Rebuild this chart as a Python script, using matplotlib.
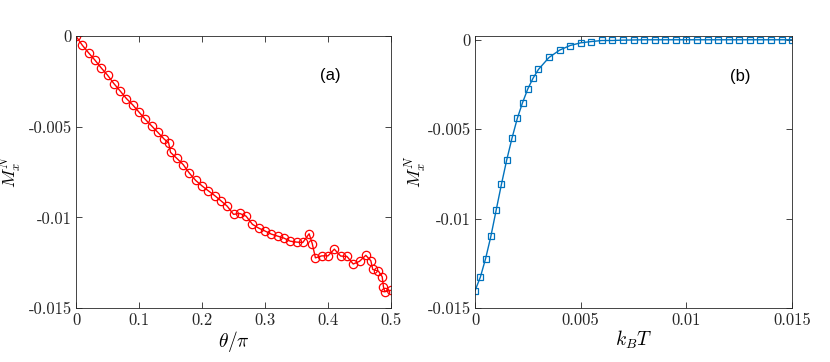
import matplotlib
matplotlib.use("Agg")
import matplotlib.pyplot as plt

plt.rcParams["mathtext.fontset"] = "cm"
plt.rcParams["axes.unicode_minus"] = False

# panel (a): M_x^N vs theta/pi
theta = [0, 0.01, 0.02, 0.03, 0.04, 0.05, 0.06, 0.07, 0.08, 0.09,
         0.10, 0.11, 0.12, 0.13, 0.14, 0.147, 0.15, 0.16, 0.17, 0.18,
         0.19, 0.20, 0.21, 0.22, 0.23, 0.24, 0.25, 0.26, 0.27, 0.28,
         0.29, 0.30, 0.31, 0.32, 0.33, 0.34, 0.35, 0.36, 0.37, 0.375,
         0.38, 0.39, 0.40, 0.41, 0.42, 0.43, 0.44, 0.45, 0.46, 0.468,
         0.471, 0.48, 0.486, 0.488, 0.49, 0.50]
mx_theta = [0, -0.0005, -0.00092, -0.00132, -0.00175, -0.00215, -0.00261, -0.00302, -0.00344, -0.00379,
            -0.00419, -0.00459, -0.00495, -0.00531, -0.00568, -0.00588, -0.00641, -0.00674, -0.00708, -0.00756,
            -0.00796, -0.00826, -0.00853, -0.00879, -0.00908, -0.00938, -0.00983, -0.00978, -0.00993, -0.01038,
            -0.01059, -0.01075, -0.01092, -0.01103, -0.01114, -0.01131, -0.01136, -0.01138, -0.0109, -0.01145,
            -0.01223, -0.01212, -0.01212, -0.01175, -0.01213, -0.01215, -0.01257, -0.01242, -0.01209, -0.01239,
            -0.01287, -0.01296, -0.01327, -0.01383, -0.0141, -0.01402]

# panel (b): M_x^N vs k_B T
kT = [0, 0.00025, 0.0005, 0.00075, 0.001, 0.00125, 0.0015, 0.00175, 0.002, 0.00225,
      0.0025, 0.00275, 0.003, 0.0035, 0.004, 0.0045, 0.005, 0.0055, 0.006, 0.0065,
      0.007, 0.0075, 0.008, 0.0085, 0.009, 0.0095, 0.01, 0.0105, 0.011, 0.0115,
      0.012, 0.0125, 0.013, 0.0135, 0.014, 0.0145, 0.015]
mx_kT = [-0.01403, -0.01328, -0.01224, -0.01099, -0.00953, -0.00808, -0.00672, -0.0055, -0.0044, -0.00351,
         -0.00274, -0.00214, -0.00166, -0.00099, -0.00058, -0.00032, -0.00017, -0.0001, -0.00004, -0.00004,
         -0.00002, -0.00001, 0, 0, 0, 0, 0, 0, 0, 0,
         0, 0, 0, 0, 0, 0, 0]

yticks = [0, -0.005, -0.01, -0.015]
ytick_labels = ["0", "-0.005", "-0.01", "-0.015"]

fig = plt.figure(figsize=(8.3, 3.62), dpi=100)
ax1 = fig.add_axes([0.0916, 0.149, 0.3795, 0.751])
ax2 = fig.add_axes([0.5723, 0.149, 0.382, 0.751])

ax1.plot(theta, mx_theta, color="red", lw=1.0, marker="o", ms=6,
         mfc="none", mec="red", mew=0.9)
ax2.plot(kT, mx_kT, color="#0072BD", lw=1.0, marker="s", ms=5,
         mfc="none", mec="#0072BD", mew=0.9)

ax1.set_xlim(0, 0.5)
ax1.set_ylim(-0.015, 0)
ax1.set_xticks([0, 0.1, 0.2, 0.3, 0.4, 0.5])
ax1.set_xticklabels(["0", "0.1", "0.2", "0.3", "0.4", "0.5"])
ax1.set_xlabel(r"$\theta/\pi$", fontsize=14, labelpad=1)

ax2.set_xlim(0, 0.015)
ax2.set_ylim(-0.015, 0.0002)
ax2.set_xticks([0, 0.005, 0.01, 0.015])
ax2.set_xticklabels(["0", "0.005", "0.01", "0.015"])
ax2.set_xlabel(r"$k_BT$", fontsize=14, labelpad=1)

for ax in (ax1, ax2):
    ax.set_yticks(yticks)
    ax.set_yticklabels(ytick_labels)
    ax.set_ylabel(r"$M_x^N$", fontsize=13, va="center", ha="center")
    ax.tick_params(direction="in", top=True, right=True, length=4,
                   width=0.6, colors="#262626", labelsize=12, pad=3)
    for lab in ax.get_xticklabels() + ax.get_yticklabels():
        lab.set_family("cmr10")
    for s in ax.spines.values():
        s.set_color("#262626")
        s.set_linewidth(0.6)

ax1.yaxis.set_label_coords(-0.206, 0.5)
ax2.yaxis.set_label_coords(-0.186, 0.5)

ax1.text(0.806, 0.857, "(a)", transform=ax1.transAxes, fontsize=12,
         family="Liberation Sans", ha="center", va="center")
ax2.text(0.836, 0.852, "(b)", transform=ax2.transAxes, fontsize=12,
         family="Liberation Sans", ha="center", va="center")

fig.savefig("out.png", dpi=100)
